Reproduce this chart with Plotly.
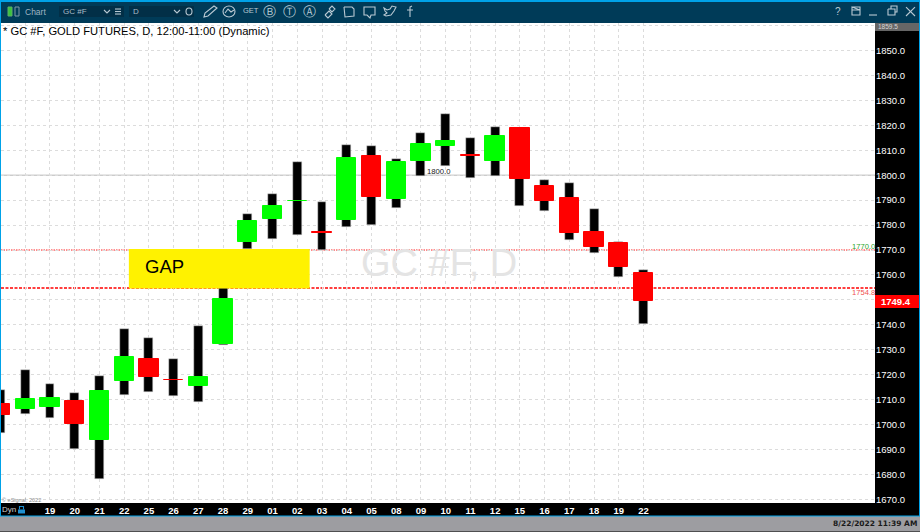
import plotly.graph_objects as go

# Daily session labels (first two bars have no printed label)
labels = ["", "", "19", "20", "21", "22", "25", "26", "27", "28", "29", "01", "02", "03",
          "04", "05", "08", "09", "10", "11", "12", "15", "16", "17", "18", "19", "22"]
opens = [1708.1, 1706.4, 1707.2, 1709.5, 1693.7, 1717.4, 1726.3, 1717.9, 1715.4, 1732.3, 1773.2, 1782.5, 1789.6, 1777.2,
         1782.2, 1807.7, 1790.5, 1805.7, 1811.6, 1807.9, 1805.5, 1819.0, 1795.5, 1790.8, 1777.2, 1773.0, 1760.6]
highs = [1714.0, 1721.9, 1716.4, 1712.7, 1719.5, 1738.3, 1734.6, 1726.3, 1739.7, 1754.8, 1784.6, 1792.5, 1805.1, 1789.4,
         1812.2, 1811.6, 1806.4, 1817.1, 1824.7, 1815.0, 1819.2, 1819.0, 1798.0, 1796.7, 1786.4, 1773.2, 1762.1]
lows = [1696.8, 1704.4, 1702.7, 1690.1, 1678.4, 1711.7, 1712.9, 1711.5, 1709.1, 1732.1, 1770.3, 1774.4, 1776.1, 1770.1,
        1779.4, 1780.2, 1786.9, 1799.5, 1803.5, 1798.8, 1799.7, 1787.7, 1785.6, 1774.1, 1768.8, 1759.2, 1740.3]
closes = [1703.7, 1710.1, 1710.7, 1700.1, 1713.4, 1727.2, 1719.2, 1717.9, 1719.0, 1750.2, 1781.7, 1787.7, 1789.6, 1776.8,
          1806.9, 1791.3, 1805.3, 1812.4, 1813.6, 1807.5, 1815.6, 1798.3, 1789.8, 1776.9, 1771.4, 1763.0, 1749.6]
# Bars 5 and 10 are dojis: colour is not derivable from open/close, so it is listed
body_up = [False, True, True, False, True, True, False, False, True, True, True, True, True, False,
           True, False, True, True, True, False, True, False, False, False, False, False, False]
price_ticks = [1670.0, 1680.0, 1690.0, 1700.0, 1710.0, 1720.0, 1730.0, 1740.0, 1750.0, 1760.0,
               1770.0, 1780.0, 1790.0, 1800.0, 1810.0, 1820.0, 1830.0, 1840.0, 1850.0, 1860.0]
price_labels = ["1670.0", "1680.0", "1690.0", "1700.0", "1710.0", "1720.0", "1730.0", "1740.0", "", "1760.0",
                "1770.0", "1780.0", "1790.0", "1800.0", "1810.0", "1820.0", "1830.0", "1840.0", "1850.0", ""]
last_price = 1749.4
gap_top = 1770.0
gap_bottom = 1754.8
round_level = 1800.0

xs = list(range(-2, len(labels) - 2))
UP, DOWN = "#00ff00", "#ff0000"
FONT = "Liberation Sans"
XMIN, XMAX = -1.98, 33.36

# pixel -> paper helpers for the window chrome
L, R, T, B = 1, 875, 23, 503.5
def X(p): return (p - L) / (R - L)
def Y(p): return 1 - (p - T) / (B - T)
def box(x0, y0, x1, y1, color):
    return dict(type="rect", xref="paper", yref="paper", x0=X(x0), x1=X(x1), y0=Y(y0), y1=Y(y1),
                fillcolor=color, line_width=0, layer="below")
def poly(points, color, width=1.1, closed=False, fill=None):
    d = "M" + " L".join(f"{X(a):.5f},{Y(b):.5f}" for a, b in points) + (" Z" if closed else "")
    return dict(type="path", xref="paper", yref="paper", path=d, line=dict(color=color, width=width),
                fillcolor=fill or "rgba(0,0,0,0)", layer="above")
def ring(x0, y0, x1, y1, color, width=1.1):
    return dict(type="circle", xref="paper", yref="paper", x0=X(x0), x1=X(x1), y0=Y(y0), y1=Y(y1),
                line=dict(color=color, width=width), layer="above")
def txt(x, y, s, size=11, color="#ffffff", anchor="left", family=FONT, weight=None):
    f = dict(size=size, color=color, family=family)
    if weight:
        f["weight"] = weight
    return dict(xref="paper", yref="paper", x=X(x), y=Y(y), text=s, showarrow=False, xanchor=anchor,
                yanchor="middle", font=f, borderpad=0, borderwidth=0)

fig = go.Figure()
fig.add_trace(go.Bar(x=xs, y=[h - l for h, l in zip(highs, lows)], base=lows, width=0.36,
                     marker=dict(color="#000000", line=dict(color="#d4d4d4", width=0.5)), hoverinfo="skip"))
fig.add_trace(go.Bar(x=xs, y=[abs(o - c) for o, c in zip(opens, closes)],
                     base=[min(o, c) for o, c in zip(opens, closes)], width=0.78,
                     marker=dict(color=[UP if u else DOWN for u in body_up],
                                 line=dict(color=[UP if u else DOWN for u in body_up], width=1)),
                     hoverinfo="skip"))

ICON = "#b9c9d3"
shapes = [
    box(0, 0, 920, 532, "#9d9da1"),
    box(0, 0, 920, 23, "#00a2e8"),
    box(1, 2, 919, 23, "#003b58"),
    box(59, 6, 124, 17, "#022f47"),
    box(129, 6, 194, 17, "#022f47"),
    box(0, 23, 920, 517, "#00a2e8"),
    box(1, 23, 919, 516, "#000000"),
    box(1, 23, 875, 503.5, "#ffffff"),
    box(875, 23, 919, 31, "#666666"),
    # trading levels
    dict(type="line", x0=XMIN, x1=XMAX, y0=round_level, y1=round_level,
         line=dict(color="#b4b4b4", width=1), layer="below"),
    dict(type="line", x0=XMIN, x1=XMAX, y0=gap_top, y1=gap_top,
         line=dict(color="#ff1a1a", width=1, dash="1.5px,1px"), layer="below"),
    dict(type="line", x0=XMIN, x1=XMAX, y0=gap_bottom, y1=gap_bottom,
         line=dict(color="#ff0000", width=1.5, dash="3px,1.5px"), layer="below"),
    # gap box covers the bars behind it
    dict(type="rect", x0=3.19, x1=10.5, y0=gap_bottom - 0.2, y1=gap_top + 0.4,
         fillcolor="#fff200", line_width=0, layer="above"),
    # last price flag
    dict(type="rect", xref="paper", x0=1, x1=X(919), y0=last_price - 2.6, y1=last_price + 2.6,
         fillcolor="#ff0000", line_width=0, layer="above"),
    # toolbar drawn icons
    dict(type="rect", xref="paper", yref="paper", x0=X(8), x1=X(12), y0=Y(7), y1=Y(16),
         fillcolor="#39c43a", line=dict(color="#5fae6a", width=1), layer="above"),
    dict(type="rect", xref="paper", yref="paper", x0=X(15), x1=X(19), y0=Y(7), y1=Y(16),
         fillcolor="rgba(0,0,0,0)", line=dict(color="#7f98a8", width=1), layer="above"),
    poly([(104, 10), (107, 13), (110, 10)], ICON),
    poly([(115, 9), (121, 9)], ICON), poly([(115, 11.5), (121, 11.5)], ICON), poly([(115, 14), (121, 14)], ICON),
    poly([(174, 10), (177, 13), (180, 10)], ICON),
    ring(186, 8, 192, 15, ICON),
    poly([(204, 17), (205, 13), (214, 6), (217, 8), (208, 16)], ICON, closed=True),
    ring(223, 6, 235, 17, ICON),
    poly([(225, 13), (228, 9), (231, 12), (234, 10)], ICON),
    poly([(325, 15), (329, 11), (332, 14), (328, 18), (325, 15)], ICON),
    poly([(329, 9), (332, 6), (335, 9), (332, 12), (329, 9)], ICON),
    poly([(344, 7), (352, 7), (354, 9), (354, 16), (345, 17), (344, 7)], ICON),
    poly([(364, 7), (375, 7), (375, 15), (371, 15), (370, 18), (367, 15), (364, 15)], ICON, closed=True),
    poly([(384, 8), (387, 10), (390, 9), (392, 6), (396, 7), (394, 11), (391, 15), (386, 16), (384, 15), (387, 13), (385, 11)], ICON, closed=True),
    poly([(412, 6), (410, 7), (410, 17), (410, 10), (407, 10), (413, 10)], ICON),
    poly([(852, 7), (860, 7), (860, 15), (852, 15), (852, 7), (860, 10), (852, 10)], ICON),
    poly([(869, 15), (877, 15)], ICON),
    poly([(888, 9), (895, 9), (895, 15), (888, 15), (888, 9)], ICON),
    poly([(891, 9), (891, 6), (897, 6), (897, 12), (895, 12)], ICON),
    poly([(906, 7), (915, 16)], ICON),
    poly([(915, 7), (906, 16)], ICON),
    dict(type="rect", xref="paper", yref="paper", x0=X(18), x1=X(25), y0=Y(510), y1=Y(514),
         fillcolor="#1e90d0", line_width=0, layer="above"),
    poly([(19.5, 510), (19.5, 507), (23.5, 507), (23.5, 510)], "#1e90d0"),
]

annotations = [
    txt(3, 31, "* GC #F, GOLD FUTURES, D, 12:00-11:00 (Dynamic)", size=11.2, color="#000000"),
    txt(25, 11.5, "Chart", size=8.5, color="#9fb4c1"),
    txt(63, 11.5, "GC #F", size=8, color="#a9bcc8"),
    txt(133, 11.5, "D", size=8, color="#a9bcc8"),
    txt(243, 10.5, "GET", size=7.5, color=ICON),
    txt(269, 11.5, "Ⓑ", size=13, color=ICON, anchor="center", family="DejaVu Sans"),
    txt(289, 11.5, "Ⓣ", size=13, color=ICON, anchor="center", family="DejaVu Sans"),
    txt(309, 11.5, "Ⓐ", size=13, color=ICON, anchor="center", family="DejaVu Sans"),
    txt(838, 11.5, "?", size=10, color=ICON, anchor="center"),
    txt(878, 27, "1859.5", size=6.5, color="#d8d8d8"),
    txt(145, 267, "GAP", size=18.5, color="#000000"),
    txt(361, 263, "GC #F, D", size=38, color="#e4e4e4"),
    txt(427, 172, "1800.0", size=7.7, color="#202020"),
    txt(852, 247, "1770.0", size=7.6, color="#2aa52a"),
    txt(852, 293, "1754.8", size=7.6, color="#ef5050"),
    txt(881, 301.5, "1749.4", size=9.5, color="#ffffff", weight=700),
    txt(2, 500, "© eSignal, 2022", size=5.5, color="#8a8a8a"),
    txt(2, 510, "Dyn", size=8, color="#d0d0d0"),
    txt(917, 524, "8/22/2022 11:39 AM", size=7.5, color="#1a1a1a", anchor="right", family="DejaVu Sans", weight=700),
]

fig.update_layout(
    width=920, height=532, margin=dict(l=L, r=920 - R, t=T, b=532 - B), autosize=False,
    paper_bgcolor="#000000", plot_bgcolor="#ffffff", barmode="overlay", showlegend=False,
    bargap=0, shapes=shapes, annotations=annotations,
    xaxis=dict(range=[XMIN, XMAX], tickmode="array", tickvals=xs, ticktext=labels, ticks="",
               showgrid=True, gridcolor="#dcdcdc", griddash="dot", gridwidth=1, zeroline=False,
               tickfont=dict(family=FONT, size=9.5, color="#ffffff", weight=700), tickangle=0),
    yaxis=dict(range=[1668.6, 1861.0], side="right", tickmode="array", tickvals=price_ticks, ticktext=price_labels,
               ticks="", showgrid=True, gridcolor="#dcdcdc", griddash="dot", gridwidth=1,
               zeroline=False, tickfont=dict(family=FONT, size=9.5, color="#ffffff", weight=500)),
)
fig.write_html("out.html", config=dict(displayModeBar=False),
               post_script="document.body.style.margin='0';document.body.style.overflow='hidden';")
